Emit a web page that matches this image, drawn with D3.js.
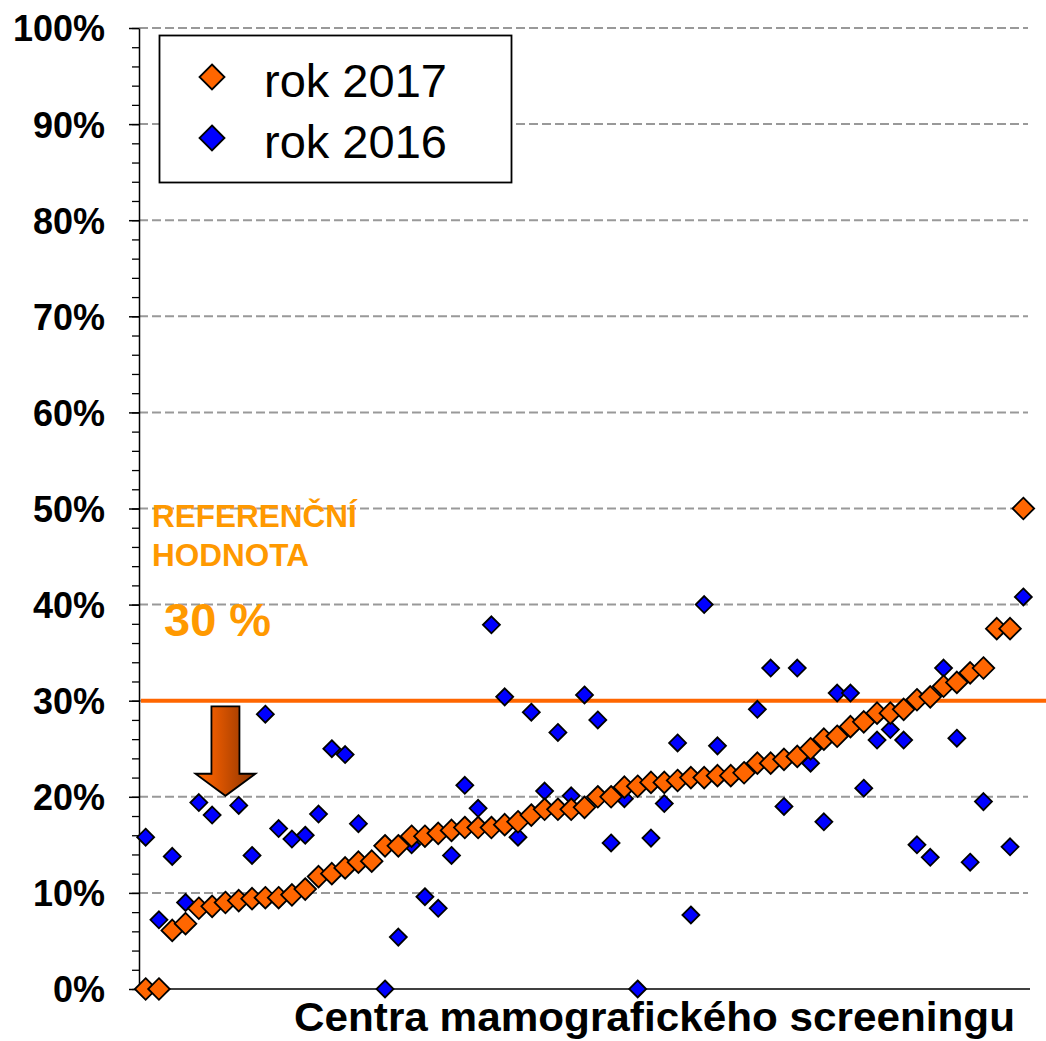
<!DOCTYPE html>
<html>
<head>
<meta charset="utf-8">
<script src="https://cdn.jsdelivr.net/npm/d3@7"></script>
<style>
  html, body { margin: 0; padding: 0; background: #fff; }
  svg { display: block; font-family: "Liberation Sans", Arial, sans-serif; }
</style>
</head>
<body>
<svg id="chart" width="1046" height="1041"></svg>
<script>
// ---- data (percent values) ----
const centers = d3.range(67).map(i => "C" + (i + 1));
const values2017 = [0,0,6.1,6.8,8.4,8.6,9.0,9.2,9.4,9.5,9.5,9.8,10.4,11.7,12.0,12.6,13.2,13.3,14.9,14.9,
  15.9,15.9,16.2,16.5,16.8,16.8,16.8,17.1,17.4,18.1,18.7,18.7,18.7,18.9,20.0,20.0,21.0,21.1,21.5,21.5,
  21.7,22.0,22.0,22.2,22.2,22.5,23.5,23.5,23.9,24.2,25.0,26.0,26.3,27.3,27.8,28.7,28.7,29.1,30.1,30.4,
  31.5,31.9,32.9,33.4,37.5,37.5,50.0];
const values2016 = [15.8,7.2,13.8,9.0,19.4,18.1,9.0,19.1,13.9,28.6,16.7,15.6,16.0,18.2,25.0,24.4,17.2,13.4,0,5.4,
  15.0,9.6,8.4,13.9,21.2,18.8,37.9,30.4,15.8,28.8,20.6,26.7,20.1,30.6,28.0,15.2,19.8,0,15.7,19.3,
  25.6,7.7,40.0,25.3,22.1,22.5,29.1,33.4,19.0,33.4,23.5,17.4,30.8,30.8,20.9,25.9,27.0,25.9,15.0,13.7,
  33.4,26.1,13.2,19.5,37.5,14.8,40.8];
const seriesNames = ["rok 2017", "rok 2016"];
const majorTicks = [0,10,20,30,40,50,60,70,80,90,100];
const tickLabels = ["0%","10%","20%","30%","40%","50%","60%","70%","80%","90%","100%"];
const referenceValue = 30;
const refTextLines = ["REFERENČNÍ", "HODNOTA"];
const refValueText = "30 %";
const xTitle = "Centra mamografického screeningu";

(function () {
// ---- layout ----
const svg = d3.select("#chart");
const pL = 139, pR = 1030, pT = 28, pB = 989;
const y = d3.scaleLinear().domain([0, 100]).range([pB, pT]);
const x = d3.scaleBand().domain(centers).range([pL, pR]).paddingInner(0).paddingOuter(0);
const cx = i => x(centers[i]) + x.bandwidth() / 2;

const defs = svg.append("defs");
const grad = defs.append("linearGradient").attr("id", "arrowGrad")
  .attr("x1", "0%").attr("x2", "100%").attr("y1", "0%").attr("y2", "0%");
grad.append("stop").attr("offset", "0%").attr("stop-color", "#ff6a00");
grad.append("stop").attr("offset", "30%").attr("stop-color", "#e85a00");
grad.append("stop").attr("offset", "100%").attr("stop-color", "#8a3300");

// gridlines
svg.append("g").selectAll("line").data(majorTicks.filter(d => d > 0)).join("line")
  .attr("x1", pL).attr("x2", 1028)
  .attr("y1", d => y(d)).attr("y2", d => y(d))
  .attr("stroke", "#999999").attr("stroke-width", 2).attr("stroke-dasharray", "9,4");

// y axis: minor ticks
const minorAxis = d3.axisLeft(y).tickValues(d3.range(0, 101, 2)).tickSize(7).tickSizeOuter(0).tickFormat("");
const gMinor = svg.append("g").attr("transform", `translate(${pL},0)`).call(minorAxis);
gMinor.selectAll("line").attr("stroke", "#000").attr("stroke-width", 1.3);
gMinor.select(".domain").attr("stroke", "#000").attr("stroke-width", 1.5);

// y axis: major ticks with labels
const majorAxis = d3.axisLeft(y).tickValues(majorTicks).tickSize(10).tickSizeOuter(0)
  .tickPadding(24).tickFormat((d, i) => tickLabels[i]);
const gMajor = svg.append("g").attr("transform", `translate(${pL},0)`).call(majorAxis);
gMajor.select(".domain").remove();
gMajor.selectAll("line").attr("stroke", "#000").attr("stroke-width", 1.5);
gMajor.selectAll("text").attr("font-size", 36).attr("font-weight", "bold")
  .attr("fill", "#000").attr("font-family", "Liberation Sans, Arial, sans-serif").attr("dy", "0.36em");

// x axis line
svg.append("line").attr("x1", pL).attr("x2", pR).attr("y1", y(0)).attr("y2", y(0))
  .attr("stroke", "#000").attr("stroke-width", 1.5);

// reference line
svg.append("line").attr("x1", pL + 2).attr("x2", 1046)
  .attr("y1", y(referenceValue)).attr("y2", y(referenceValue))
  .attr("stroke", "#ff6600").attr("stroke-width", 4);

// diamond path helper
const diamond = (px, py, r) => `M${px},${py - r}L${px + r},${py}L${px},${py + r}L${px - r},${py}Z`;

// 2016 series (drawn below)
svg.append("g").selectAll("path").data(values2016).join("path")
  .attr("d", (d, i) => diamond(cx(i), y(d), 8.5))
  .attr("fill", "#0000ff").attr("stroke", "#000").attr("stroke-width", 1.8);

// 2017 series
svg.append("g").selectAll("path").data(values2017).join("path")
  .attr("d", (d, i) => diamond(cx(i), y(d), 10.8))
  .attr("fill", "#ff6600").attr("stroke", "#000").attr("stroke-width", 1.8);

// arrow annotation (down arrow)
const ax = cx(6), sw = 14, hw = 30;
const aTop = y(29.4), aNeck = y(22.4), aTip = y(20.1);
svg.append("path")
  .attr("d", `M${ax - sw},${aTop}L${ax + sw},${aTop}L${ax + sw},${aNeck}L${ax + hw},${aNeck}L${ax},${aTip}L${ax - hw},${aNeck}L${ax - sw},${aNeck}Z`)
  .attr("fill", "url(#arrowGrad)").attr("stroke", "#000").attr("stroke-width", 1.8)
  .attr("stroke-linejoin", "miter");

// reference text
svg.append("g").selectAll("text").data(refTextLines).join("text")
  .attr("x", 152).attr("y", (d, i) => 527 + i * 39)
  .attr("font-size", 31.5).attr("font-weight", "bold").attr("fill", "#ff9900")
  .text(d => d);
svg.append("text").attr("x", 164).attr("y", 636)
  .attr("font-size", 47).attr("font-weight", "bold").attr("fill", "#ff9900")
  .text(refValueText);

// x title
svg.append("text").attr("x", 294).attr("y", 1031)
  .attr("font-size", 41).attr("font-weight", "bold").attr("fill", "#000")
  .attr("textLength", 721).attr("lengthAdjust", "spacingAndGlyphs")
  .text(xTitle);

// legend
const lg = svg.append("g");
lg.append("rect").attr("x", 159.5).attr("y", 35.5).attr("width", 352).attr("height", 147)
  .attr("fill", "#fff").attr("stroke", "#000").attr("stroke-width", 1.8);
const legendColors = ["#ff6600", "#0000ff"];
const legendY = [77, 138];
seriesNames.forEach((name, i) => {
  lg.append("path").attr("d", diamond(212, legendY[i], 12.5))
    .attr("fill", legendColors[i]).attr("stroke", "#000").attr("stroke-width", 1.8);
  lg.append("text").attr("x", 264).attr("y", legendY[i] + 20)
    .attr("font-size", 47).attr("fill", "#000").text(name);
});
})();
</script>
</body>
</html>
